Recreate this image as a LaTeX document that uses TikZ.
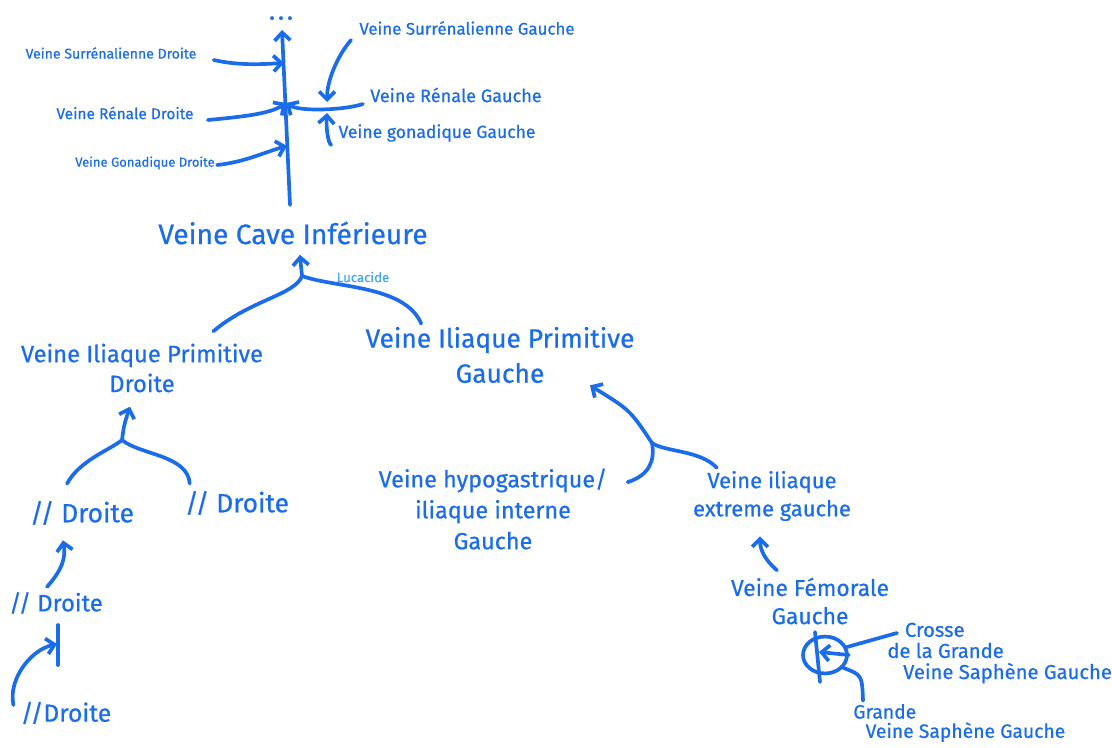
\documentclass[tikz,border=0pt]{standalone}
\usepackage{fontspec}
\setmainfont{Fira Sans}[FakeBold=0.6]
\usetikzlibrary{arrows.meta,shapes.geometric}
\definecolor{ink}{RGB}{26,108,235}
\definecolor{sign}{RGB}{70,165,245}
\begin{document}
\begin{tikzpicture}[x=0.02cm,y=-0.02cm,
  lb/.style args={#1/#2}{text=ink,inner sep=0pt,align=center,font=\fontsize{#1pt}{#2pt}\selectfont},
  wire/.style={draw=ink,line width=2.1pt,line cap=round},
  arr/.style={wire,-{Straight Barb[length=4.5pt,width=9pt]}},
  ring/.style={draw=ink,line width=2.1pt,ellipse,minimum width=25pt,minimum height=21pt,inner sep=0pt}]
\useasboundingbox (0,0) rectangle (1112,747);

% labels
\node[lb=8/9.6] (srd) at (111,53) {Veine Surrénalienne Droite};
\node[lb=8.8/10] (rd) at (125,113) {Veine Rénale Droite};
\node[lb=7.4/9] (gd) at (145,163) {Veine Gonadique Droite};
\node[lb=9.6/11] (sg) at (467,28) {Veine Surrénalienne Gauche};
\node[lb=10.3/12] (rg) at (456,95) {Veine Rénale Gauche};
\node[lb=10/12] (gg) at (437,133) {Veine gonadique Gauche};
\node[lb=16/19] (vci) at (293,233) {Veine Cave Inférieure};
\node[lb=13.5/17] (vipd) at (142,368) {Veine Iliaque Primitive\\Droite};
\node[lb=15/20] (vipg) at (500,355) {Veine Iliaque Primitive\\Gauche};
\node[lb=15/18] (d1) at (82,513) {// Droite};
\node[lb=15/18] (d2) at (237,503) {// Droite};
\node[lb=13.5/16] (d3) at (56,603) {// Droite};
\node[lb=14/17] (d4) at (66,713) {//Droite};
\node[lb=13.3/17.6] (hyp) at (493,509) {Veine hypogastrique/\\iliaque interne\\Gauche};
\node[lb=12.5/16] (ext) at (772,496) {Veine iliaque\\extreme gauche};
\node[lb=13/16] (fem) at (810,601) {Veine Fémorale\\Gauche};
\node[lb=11.5/12,align=left,anchor=west] (crosse) at (887,653) {\hspace*{10pt}Crosse\\de la Grande\\\hspace*{9pt}Veine Saphène Gauche};
\node[lb=11/11,align=left,anchor=west] (grande) at (853,723) {Grande\\\hspace*{7pt}Veine Saphène Gauche};
\node[lb=7.5/9,text=sign] (sig) at (363,277) {Lucacide};
\node[lb=15/15,text height=3pt,text depth=0pt] (dots) at (281,17) {.\kern1.5pt.\kern1.5pt.};

% junction points
\coordinate (vtop) at (282,30);
\coordinate (vbot) at (290,205);
\coordinate (jsr) at (284,63);
\coordinate (jr) at (286,103);
\coordinate (jgd) at (287,146);
\coordinate (jsg) at (327,102);
\coordinate (jgg) at (327,113);
\coordinate (mvci) at (302,276);
\coordinate (mdr) at (122,440);
\coordinate (mga) at (652,443);
\coordinate (tk1) at (58,625);
\coordinate (tk2) at (58,665);
\coordinate (tk) at (57,644);
\coordinate (v1) at (815,632);
\coordinate (v2) at (820,682);
\coordinate (rtip) at (819,652);

% inferior vena cava trunk and its tributaries
\draw[arr] (vbot) -- (vtop);
\draw[arr] ([shift={(17,7)}]srd.east) .. controls (240,66) and (265,64) .. (jsr);
\draw[arr] ([shift={(14,7)}]rd.east) .. controls (240,117) and (270,114) .. (jr);
\draw[arr] ([shift={(2,2)}]gd.east) .. controls (245,162) and (265,152) .. (jgd);
\draw[arr] ([shift={(-7,9)}]rg.west) .. controls (345,110) and (300,112) .. (jr);
\draw[arr] ([shift={(-8,12)}]sg.west) .. controls (338,55) and (327,80) .. (jsg);
\draw[arr] ([shift={(-7,12)}]gg.west) .. controls (328,143) and (326,128) .. (jgg);

% common iliac veins into IVC
\draw[wire] ([shift={(-50,-12)}]vipd.north east) .. controls (250,300) and (295,295) .. (mvci);
\draw[wire] ([shift={(56,-3)}]vipg.north west) .. controls (405,285) and (335,288) .. (mvci);
\draw[arr] (mvci) .. controls (301,268) .. ([shift={(7,10)}]vci.south);

% right side
\draw[wire] ([shift={(-15,-17)}]d1.north) .. controls (80,460) and (110,450) .. (mdr);
\draw[wire] ([shift={(5,-7)}]d2.north west) .. controls (188,455) and (140,455) .. (mdr);
\draw[arr] (mdr) .. controls (124,425) .. ([shift={(-12,14)}]vipd.south);
\draw[arr] ([shift={(-9,-5)}]d3.north) .. controls (62,570) and (66,558) .. ([shift={(-19,15)}]d1.south);
\draw[wire] (tk1) -- (tk2);
\draw[arr] ([shift={(-7,-8)}]d4.west) .. controls (8,680) and (30,650) .. (tk);

% left side
\draw[wire] ([shift={(20,14)}]hyp.north east) .. controls (650,475) and (655,460) .. (mga);
\draw[wire] ([shift={(24,-3)}]ext.north west) .. controls (700,450) and (665,452) .. (mga);
\draw[arr] (mga) .. controls (630,410) .. ([shift={(90,2)}]vipg.south);
\draw[arr] ([shift={(-33,-7)}]fem.north) .. controls (765,560) and (760,550) .. ([shift={(-12,15)}]ext.south);

% saphenous arch
\node[ring] (ring) at (825,655) {};
\draw[wire] (v1) -- (v2);
\draw[arr] (ring.east) -- (rtip);
\draw[wire] (ring.20) -- ([shift={(10,-20)}]crosse.west);
\draw[wire] (ring.-35) .. controls (862,675) .. ([shift={(10,-3)}]grande.north west);
\end{tikzpicture}
\end{document}
